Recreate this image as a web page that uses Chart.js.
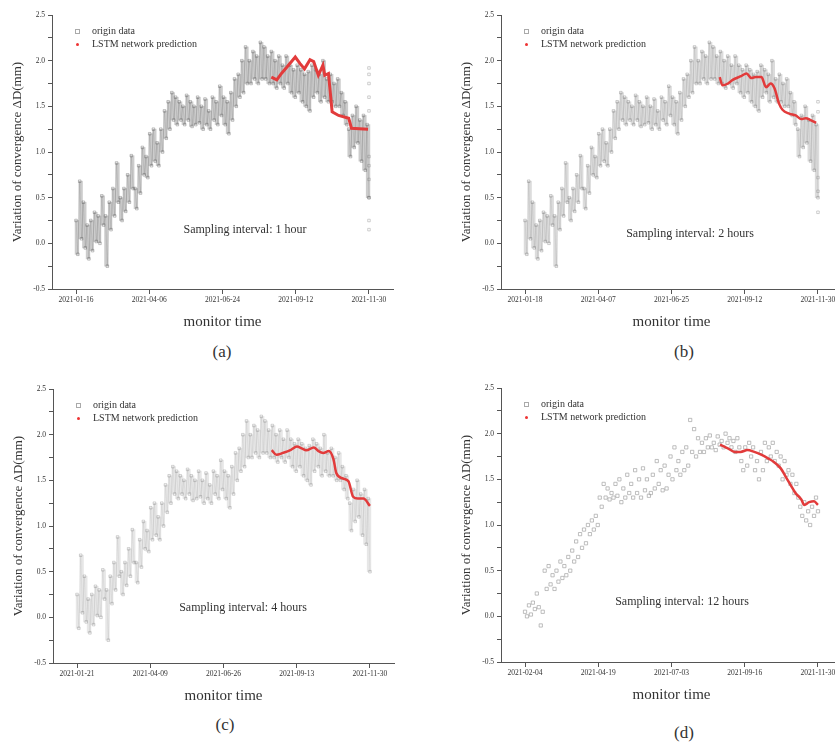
<!DOCTYPE html>
<html>
<head>
<meta charset="utf-8">
<script src="https://cdn.jsdelivr.net/npm/chart.js@4.4.0/dist/chart.umd.min.js"></script>
<style>
html, body { margin: 0; padding: 0; background: #fff; }
body { position: relative; width: 835px; height: 746px; overflow: hidden; }
canvas { position: absolute; }
.txt { position: absolute; font-family: "Liberation Serif", "Times New Roman", serif; color: #333; white-space: nowrap; transform: translate(-50%, -50%); }
.leg { position: absolute; font-family: "Liberation Serif", serif; font-size: 10px; color: #333; white-space: nowrap; line-height: 13px; }
.sq { position: absolute; width: 3px; height: 3px; border: 1px solid #aaa; }
.dot { position: absolute; width: 3px; height: 3px; border-radius: 50%; background: #e33; }
</style>
</head>
<body>
<canvas id="ca" width="417" height="340" style="left:0px;top:0px"></canvas>
<canvas id="cb" width="417" height="340" style="left:449px;top:0px"></canvas>
<canvas id="cc" width="417" height="340" style="left:1px;top:374px"></canvas>
<canvas id="cd" width="417" height="340" style="left:449px;top:373px"></canvas>
<script>
// tick labels per panel (ticks split the record into four equal parts)
const ticksA = ['2021-01-16', '2021-04-06', '2021-06-24', '2021-09-12', '2021-11-30'];
const ticksB = ['2021-01-18', '2021-04-07', '2021-06-25', '2021-09-12', '2021-11-30'];
const ticksC = ['2021-01-21', '2021-04-09', '2021-06-26', '2021-09-13', '2021-11-30'];
const ticksD = ['2021-02-04', '2021-04-19', '2021-07-03', '2021-09-16', '2021-11-30'];

// measured convergence (hourly record), top and bottom of the band read every 4 days
const hourlyHigh = [
  0.25, 0.68, 0.45, 0.2, 0.25, 0.34, 0.3, 0.52, 0.3, 0.45,
  0.6, 0.88, 0.5, 0.6, 0.75, 0.96, 0.6, 0.85, 1.05, 0.95,
  1.2, 1.25, 1.1, 1.25, 1.45, 1.55, 1.65, 1.6, 1.55, 1.5,
  1.62, 1.55, 1.5, 1.6, 1.5, 1.58, 1.45, 1.6, 1.55, 1.72,
  1.6, 1.55, 1.65, 1.8, 1.85, 2.0, 2.15, 2.0, 2.1, 2.05,
  2.2, 2.15, 2.05, 2.1, 2.0, 2.05, 1.95, 2.05, 1.95, 1.9,
  1.95, 1.9, 1.85, 1.88, 1.95, 1.9, 1.85, 2.0, 1.8, 1.85,
  1.75, 1.8, 1.65, 1.55, 1.25, 1.4, 1.5, 1.35, 1.4, 1.3
];
const hourlyLow = [
  -0.12, 0.05, -0.05, -0.17, -0.08, 0.02, 0.0, 0.2, -0.25, 0.15,
  0.3, 0.45, 0.25, 0.35, 0.45, 0.6, 0.38, 0.55, 0.75, 0.72,
  0.85, 0.9, 0.85, 1.0, 1.15, 1.25, 1.35, 1.3, 1.35, 1.3,
  1.35, 1.28, 1.3, 1.32, 1.25, 1.3, 1.25, 1.35, 1.3, 1.4,
  1.3, 1.2, 1.35, 1.5, 1.6, 1.65, 1.75, 1.75, 1.8, 1.75,
  1.8, 1.8, 1.75, 1.75, 1.7, 1.75, 1.7, 1.75, 1.65, 1.6,
  1.65, 1.55, 1.5, 1.45, 1.6, 1.65, 1.55, 1.6, 1.55, 1.55,
  1.5, 1.5, 1.4, 1.3, 0.95, 1.05, 1.1, 0.9, 0.8, 0.5
];
// loose points on the last day
const strayA = [1.92, 1.85, 1.75, 1.6, 1.45, 0.95, 0.85, 0.7, 0.5, 0.25, 0.15];
const strayB = [1.55, 1.44, 0.72, 0.57, 0.34];

// 12 hour sampling, one value every 2 days
const halfDay = [
  0.05, 0.0, 0.12, 0.02, 0.15, 0.08, 0.25, 0.1, -0.1, 0.05,
  0.5, 0.3, 0.55, 0.35, 0.45, 0.3, 0.5, 0.38, 0.6, 0.42,
  0.55, 0.45, 0.65, 0.5, 0.72, 0.6, 0.82, 0.65, 0.9, 0.75,
  0.95, 0.8, 1.0, 0.9, 1.05, 0.95, 1.1, 1.0, 1.3, 1.2,
  1.45, 1.3, 1.4, 1.28, 1.35, 1.3, 1.45, 1.32, 1.5, 1.25,
  1.4, 1.3, 1.55, 1.35, 1.45, 1.3, 1.6, 1.35, 1.5, 1.3,
  1.62, 1.38, 1.5, 1.32, 1.35, 1.55, 1.4, 1.7, 1.45, 1.6,
  1.38, 1.65, 1.4, 1.55, 1.75, 1.5, 1.85, 1.6, 1.7, 1.55,
  1.8, 1.6, 1.85, 1.65, 2.15, 1.8, 2.05, 1.75, 1.95, 1.8,
  1.9, 1.8, 1.95, 1.85, 1.98, 1.85, 1.9, 1.82, 1.97, 1.88,
  1.92, 1.85, 2.0, 1.9, 1.95, 1.85, 1.92, 1.8, 1.95, 1.85,
  1.7, 1.6, 1.85, 1.65, 1.9, 1.75, 1.85, 1.6, 1.7, 1.5,
  1.8, 1.6, 1.9, 1.7, 1.85, 1.75, 1.9, 1.7, 1.8, 1.65,
  1.75, 1.5, 1.7, 1.55, 1.6, 1.45, 1.55, 1.35, 1.45, 1.3,
  1.2, 1.1, 1.25, 1.05, 1.15, 1.0, 1.2, 1.1, 1.3, 1.15
];

// LSTM prediction: day offset from first tick, value
const predDaysA = [212, 218, 223, 229, 238, 243, 248, 254, 258, 263, 268, 270, 274, 278, 285, 296, 299, 317];
const predValsA = [1.82, 1.79, 1.86, 1.93, 2.04, 1.97, 1.91, 2.01, 1.99, 1.84, 1.95, 1.84, 1.86, 1.44, 1.40, 1.37, 1.26, 1.25];
const predDaysB = [210, 213, 219, 224, 233, 239, 244, 249, 255, 260, 265, 269, 274, 278, 285, 292, 298, 303, 308, 314];
const predValsB = [1.82, 1.73, 1.75, 1.79, 1.83, 1.86, 1.81, 1.82, 1.82, 1.71, 1.75, 1.70, 1.53, 1.46, 1.42, 1.40, 1.36, 1.37, 1.35, 1.32];
const predDaysC = [208, 213, 220, 228, 235, 240, 245, 253, 258, 263, 269, 274, 277, 284, 290, 295, 300, 306, 313];
const predValsC = [1.83, 1.78, 1.80, 1.83, 1.87, 1.85, 1.83, 1.86, 1.82, 1.80, 1.82, 1.73, 1.58, 1.52, 1.49, 1.32, 1.30, 1.30, 1.22];
const predDaysD = [199, 207, 214, 220, 227, 234, 241, 248, 254, 261, 266, 271, 276, 282, 285, 290, 295, 299];
const predValsD = [1.88, 1.84, 1.80, 1.80, 1.82, 1.80, 1.77, 1.73, 1.69, 1.62, 1.53, 1.44, 1.35, 1.28, 1.22, 1.25, 1.26, 1.22];

const serif = '"Liberation Serif", "Times New Roman", serif';

const panels = [
  { canvas: 'ca', left: 0, top: 0, ticks: ticksA, span: 318, band: true, stray: strayA,
    days: predDaysA, vals: predValsA, fill: 'rgba(120,120,120,0.38)', mark: 'rgba(80,80,80,0.5)', swing: 'rgba(90,90,90,0.3)',
    smooth: false, redW: 3,
    note: 'Sampling interval: 1 hour', noteX: 245, noteY: 229, letter: '(a)', letX: 222, letY: 352 },
  { canvas: 'cb', left: 449, top: 0, ticks: ticksB, span: 316, band: true, stray: strayB,
    days: predDaysB, vals: predValsB, fill: 'rgba(140,140,140,0.3)', mark: 'rgba(100,100,100,0.45)', swing: 'rgba(110,110,110,0.25)',
    smooth: true, redW: 2.5,
    note: 'Sampling interval: 2 hours', noteX: 690, noteY: 233, letter: '(b)', letX: 684, letY: 352 },
  { canvas: 'cc', left: 1, top: 374, ticks: ticksC, span: 313, band: true, stray: [],
    days: predDaysC, vals: predValsC, fill: 'rgba(160,160,160,0.25)', mark: 'rgba(120,120,120,0.45)', swing: 'rgba(130,130,130,0.22)',
    smooth: true, redW: 2.5,
    note: 'Sampling interval: 4 hours', noteX: 243, noteY: 607, letter: '(c)', letX: 225, letY: 725 },
  { canvas: 'cd', left: 449, top: 373, ticks: ticksD, span: 299, band: false, stray: [],
    days: predDaysD, vals: predValsD, fill: '', mark: 'rgba(160,160,160,0.85)', swing: '',
    smooth: true, redW: 2.5,
    note: 'Sampling interval: 12 hours', noteX: 682, noteY: 601, letter: '(d)', letX: 684, letY: 733 }
];

function addText(cls, text, x, y, size) {
  const d = document.createElement('div');
  d.className = cls;
  d.textContent = text;
  d.style.left = x + 'px';
  d.style.top = y + 'px';
  if (size) d.style.fontSize = size + 'px';
  document.body.appendChild(d);
}

function addLegend(p) {
  const sq = document.createElement('div');
  sq.className = 'sq';
  sq.style.left = (p.left + 75) + 'px';
  sq.style.top = (p.top + 29) + 'px';
  document.body.appendChild(sq);
  const dot = document.createElement('div');
  dot.className = 'dot';
  dot.style.left = (p.left + 76) + 'px';
  dot.style.top = (p.top + 43) + 'px';
  document.body.appendChild(dot);
  addText('leg', 'origin data', p.left + 92, p.top + 24);
  addText('leg', 'LSTM network prediction', p.left + 92, p.top + 37);
}

panels.forEach(p => {
  const datasets = [];
  const predPts = p.days.map((d, i) => ({ x: d, y: p.vals[i] }));
  datasets.push({
    type: 'line', data: predPts, borderColor: '#e23b3b', borderWidth: p.redW, pointRadius: 0,
    tension: p.smooth ? 0.4 : 0, cubicInterpolationMode: p.smooth ? 'monotone' : 'default', order: 0
  });

  if (p.band) {
    const n = hourlyHigh.length;
    const step = p.span / (2 * n - 1);
    // alternate top and bottom of the band, like the daily swing of the record
    const swing = [];
    hourlyHigh.forEach((h, i) => {
      swing.push({ x: 2 * i * step, y: h });
      swing.push({ x: (2 * i + 1) * step, y: hourlyLow[i] });
    });
    const ranges = hourlyHigh.map((h, i) => ({ x: (2 * i + 0.5) * step, y: [hourlyLow[i], h] }));
    datasets.push({
      type: 'line', data: swing, borderColor: p.swing, borderWidth: 0.5,
      pointStyle: 'rect', pointRadius: 1.8, pointBorderWidth: 0.7,
      pointBorderColor: p.mark, pointBackgroundColor: 'rgba(255,255,255,0)', order: 2
    });
    datasets.push({
      type: 'bar', data: ranges, backgroundColor: p.fill, borderWidth: 0,
      barPercentage: 1, categoryPercentage: 1, grouped: false, order: 3
    });
  } else {
    const n = halfDay.length;
    const pts = halfDay.map((v, i) => ({ x: i * p.span / (n - 1), y: v }));
    datasets.push({
      type: 'line', data: pts, showLine: false,
      pointStyle: 'rect', pointRadius: 2.3, pointBorderWidth: 0.8,
      pointBorderColor: p.mark, pointBackgroundColor: 'rgba(255,255,255,0)', order: 2
    });
  }

  datasets.push({
    type: 'line', data: p.stray.map(v => ({ x: p.span, y: v })), showLine: false,
    pointStyle: 'rect', pointRadius: 1.8, pointBorderWidth: 0.7,
    pointBorderColor: 'rgba(170,170,170,0.8)', pointBackgroundColor: 'rgba(255,255,255,0)', order: 4
  });

  const pad = p.span * 0.082;
  new Chart(document.getElementById(p.canvas), {
    type: 'line',
    data: { datasets: datasets },
    options: {
      responsive: false,
      animation: false,
      layout: { padding: { top: 15, right: 24, left: 0, bottom: 0 } },
      plugins: { legend: { display: false }, tooltip: { enabled: false } },
      scales: {
        x: {
          type: 'linear', min: -pad, max: p.span + pad, offset: false,
          afterBuildTicks: s => { s.ticks = [0, 1, 2, 3, 4].map(k => ({ value: k * p.span / 4 })); },
          afterFit: s => { s.height = 51; },
          ticks: {
            callback: (v, i) => p.ticks[i], autoSkip: false, maxRotation: 0,
            font: { family: serif, size: 7.5 }, color: '#333', padding: 2
          },
          grid: { drawOnChartArea: false, tickLength: 5, color: '#555', offset: false },
          border: { color: '#555', width: 1 },
          title: {
            display: true, text: 'monitor time', color: '#333',
            font: { family: serif, size: 15 }, padding: { top: 0, bottom: 9 }
          }
        },
        y: {
          min: -0.5, max: 2.5,
          afterFit: s => { s.width = 52; },
          ticks: {
            stepSize: 0.25, autoSkip: false,
            callback: v => (Math.abs(v * 2 - Math.round(v * 2)) < 1e-6 ? v.toFixed(1) : ''),
            font: { family: serif, size: 7.5 }, color: '#333', padding: 3
          },
          grid: { drawOnChartArea: false, tickLength: 4, color: '#555' },
          border: { color: '#555', width: 1 },
          title: {
            display: true, text: 'Variation of convergence ΔD(mm)', color: '#333',
            font: { family: serif, size: 13 }, padding: { top: 10, bottom: 0 }
          }
        }
      }
    }
  });

  addLegend(p);
  addText('txt', p.note, p.noteX, p.noteY, 12);
  addText('txt', p.letter, p.letX, p.letY, 17);
});
</script>
</body>
</html>
